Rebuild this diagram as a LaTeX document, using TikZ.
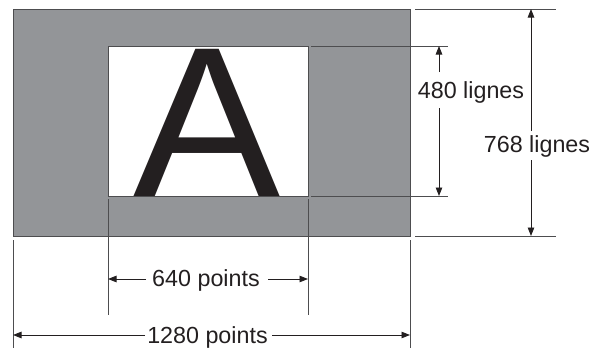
\documentclass[tikz,border=0pt]{standalone}
\usepackage{fontspec}
\setmainfont{Liberation Sans}
\usetikzlibrary{arrows.meta}
\definecolor{ink}{HTML}{231F20}
\definecolor{panel}{HTML}{939598}
\definecolor{edge}{HTML}{4D4D4F}
\tikzset{
  ext/.style={draw=edge, line width=0.9pt},
  dim/.style={draw=ink, line width=0.9pt, -{Triangle[length=8.5pt,width=6.5pt]}},
  lbl/.style={font=\fontsize{23.3}{26}\selectfont, text=ink, inner sep=0pt},
}
\begin{document}
\begin{tikzpicture}[x=1pt,y=-1pt]
\useasboundingbox (0,0) rectangle (605,348);
% screens
\draw[fill=panel, draw=edge, line width=1pt] (13,9) rectangle (410,236);
\draw[fill=white, draw=edge, line width=1pt] (108,46) rectangle (308,196);
% big letter
\begin{scope}
\clip (108,46) rectangle (308,196);
\node[anchor=base, inner sep=0pt, text=ink, font=\fontsize{214}{214}\selectfont, xscale=1.03] (bigA) at (207,196.5) {A};
\end{scope}
% extension lines (right)
\coordinate (e1a) at (415,9);   \coordinate (e1b) at (556,9);
\coordinate (e2a) at (415,236); \coordinate (e2b) at (556,236);
\coordinate (e3a) at (311,46);  \coordinate (e3b) at (448,46);
\coordinate (e4a) at (311,196); \coordinate (e4b) at (448,196);
\draw[ext] (e1a) -- (e1b);
\draw[ext] (e2a) -- (e2b);
\draw[ext] (e3a) -- (e3b);
\draw[ext] (e4a) -- (e4b);
% extension lines (bottom)
\coordinate (v1a) at (13,240);  \coordinate (v1b) at (13,348);
\coordinate (v2a) at (410,240); \coordinate (v2b) at (410,348);
\coordinate (v3a) at (108,199); \coordinate (v3b) at (108,315);
\coordinate (v4a) at (308,199); \coordinate (v4b) at (308,315);
\draw[ext] (v1a) -- (v1b);
\draw[ext] (v2a) -- (v2b);
\draw[ext] (v3a) -- (v3b);
\draw[ext] (v4a) -- (v4b);
% 480 lignes
\node[lbl] (t480) at (471,92.5) {480 lignes};
\coordinate (a480t) at (439,46);  \coordinate (a480b) at (439,196);
\coordinate (g480t) at (439,72);  \coordinate (g480b) at (439,108);
\draw[dim] (g480t) -- (a480t);
\draw[dim] (g480b) -- (a480b);
% 768 lignes
\node[lbl] (t768) at (537,146.5) {768 lignes};
\coordinate (a768t) at (531,9);   \coordinate (a768b) at (531,236);
\coordinate (g768t) at (531,131); \coordinate (g768b) at (531,160);
\draw[dim] (g768t) -- (a768t);
\draw[dim] (g768b) -- (a768b);
% 640 points
\node[lbl] (t640) at (206,280.5) {640 points};
\coordinate (a640l) at (108,279); \coordinate (a640r) at (308,279);
\coordinate (g640l) at (146,279); \coordinate (g640r) at (268,279);
\draw[dim] (g640l) -- (a640l);
\draw[dim] (g640r) -- (a640r);
% 1280 points
\node[lbl] (t1280) at (207.5,337.5) {1280 points};
\coordinate (a1280l) at (13,335);  \coordinate (a1280r) at (410,335);
\coordinate (g1280l) at (145,335); \coordinate (g1280r) at (272,335);
\draw[dim] (g1280l) -- (a1280l);
\draw[dim] (g1280r) -- (a1280r);
\end{tikzpicture}
\end{document}
